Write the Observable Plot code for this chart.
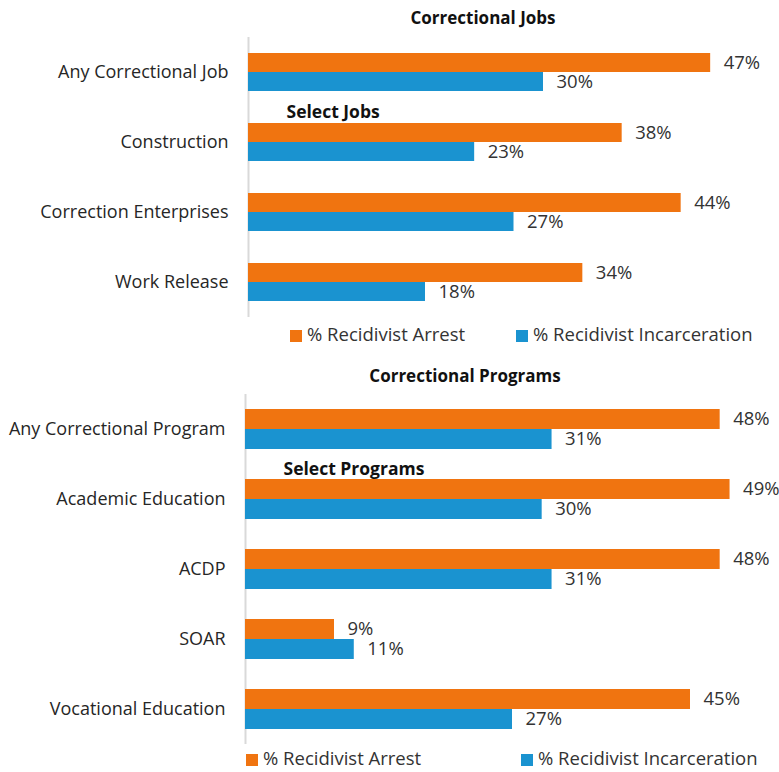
<!DOCTYPE html>
<html>
<head>
<meta charset="utf-8">
<script src="https://cdn.jsdelivr.net/npm/d3@7"></script>
<script src="https://cdn.jsdelivr.net/npm/@observablehq/plot@0.6"></script>
<style>
  body { margin: 0; background: #fff; }
  #c { position: relative; width: 779px; height: 772px; font-family: "Open Sans", sans-serif; color: #333; }
  .title { position: absolute; font-weight: bold; font-size: 17px; color: #111; text-align: center; width: 300px; line-height: 20px; }
  .plot { position: absolute; left: 0; }
  .leg { position: absolute; font-size: 18.5px; line-height: 20px; color: #333; white-space: nowrap; }
  .sw { display: inline-block; width: 12px; height: 12px; margin-right: 5px; vertical-align: -1px; }
</style>
</head>
<body>
<div id="c"></div>
<script>
// ---- data ----
const series = ["% Recidivist Arrest", "% Recidivist Incarceration"];
const colors = ["#F07410", "#1A93D0"];

const jobCategories = ["Any Correctional Job", "Construction", "Correction Enterprises", "Work Release"];
const jobArrest = [47, 38, 44, 34];
const jobIncarceration = [30, 23, 27, 18];

const programCategories = ["Any Correctional Program", "Academic Education", "ACDP", "SOAR", "Vocational Education"];
const programArrest = [48, 49, 48, 9, 45];
const programIncarceration = [31, 30, 31, 11, 27];

const jobsTitle = "Correctional Jobs";
const programsTitle = "Correctional Programs";
const jobsNote = { category: "Construction", label: "Select Jobs" };
const programsNote = { category: "Academic Education", label: "Select Programs" };

// ---- build ----
function rows(categories, arrest, incarceration) {
  const out = [];
  categories.forEach((c, i) => {
    out.push({ category: c, series: series[0], value: arrest[i] });
    out.push({ category: c, series: series[1], value: incarceration[i] });
  });
  return out;
}

function panel(categories, data, note, opts) {
  return Plot.plot({
    width: 779,
    height: opts.height,
    marginLeft: opts.marginLeft,
    marginRight: 0,
    marginTop: 0,
    marginBottom: 0,
    style: { fontFamily: "Open Sans, sans-serif", fontSize: "18px", color: "#262626", background: "transparent", overflow: "visible" },
    x: { domain: [0, 54], axis: null },
    y: { domain: series, axis: null, paddingInner: 0, paddingOuter: opts.yPad },
    fy: { domain: categories, padding: 0, axis: "left", tickSize: 0, tickPadding: 20, label: null },
    color: { domain: series, range: colors },
    marks: [
      Plot.ruleX([0], { stroke: "#d9d9d9", strokeWidth: 2 }),
      Plot.barX(data, { x: "value", y: "series", fy: "category", fill: "series" }),
      Plot.text(data, { x: "value", y: "series", fy: "category", text: d => d.value + "%", textAnchor: "start", dx: 13, fontSize: 18.5, fill: "#333" }),
      Plot.text([note], { fy: "category", text: "label", frameAnchor: "top-left", dx: 38, dy: 5, lineAnchor: "middle", textAnchor: "start", fontWeight: "bold", fontSize: 17.5, fill: "#111" })
    ]
  });
}

const c = document.getElementById("c");

function addTitle(text, cx, cy) {
  const d = document.createElement("div");
  d.className = "title";
  d.textContent = text;
  d.style.left = (cx - 150) + "px";
  d.style.top = (cy - 10) + "px";
  c.appendChild(d);
}
function addLegend(items, cy) {
  items.forEach(([x, i]) => {
    const d = document.createElement("div");
    d.className = "leg";
    d.style.left = x + "px";
    d.style.top = (cy - 10) + "px";
    d.innerHTML = `<span class="sw" style="background:${colors[i]}"></span>${series[i]}`;
    c.appendChild(d);
  });
}

addTitle(jobsTitle, 483, 18);
const p1 = panel(jobCategories, rows(jobCategories, jobArrest, jobIncarceration), jobsNote, { height: 283, marginLeft: 248, yPad: 0.77 });
p1.classList.add("plot"); p1.style.top = "35px"; p1.style.position = "absolute";
c.appendChild(p1);
addLegend([[290, 0], [516, 1]], 334);

addTitle(programsTitle, 465, 376);
const p2 = panel(programCategories, rows(programCategories, programArrest, programIncarceration), programsNote, { height: 350, marginLeft: 245, yPad: 0.75 });
p2.classList.add("plot"); p2.style.top = "394px"; p2.style.position = "absolute";
c.appendChild(p2);
addLegend([[246, 0], [521, 1]], 758);
</script>
</body>
</html>
